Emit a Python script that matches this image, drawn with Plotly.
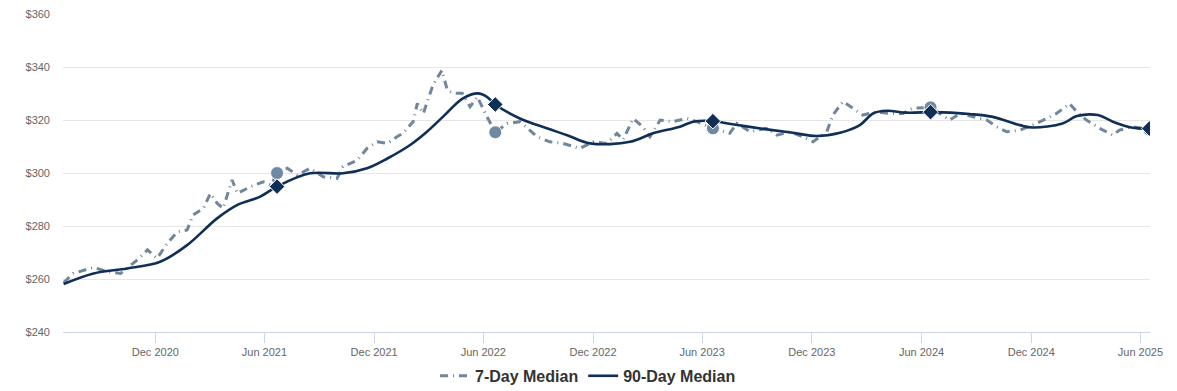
import plotly.graph_objects as go

# 90-day median (solid)
d90_dates = ["2020-07-01","2020-08-20","2020-10-15","2020-12-09","2021-01-23","2021-03-14",
             "2021-04-17","2021-05-25","2021-06-22","2021-08-16","2021-10-10","2021-11-19",
             "2021-12-23","2022-01-30","2022-02-27","2022-03-26","2022-04-28","2022-05-23",
             "2022-06-07","2022-06-21","2022-08-01","2022-09-15","2022-10-19","2022-11-26",
             "2023-02-01","2023-03-11","2023-04-25","2023-05-17","2023-06-19","2023-07-22",
             "2023-09-17","2023-10-30","2023-12-09","2024-01-17","2024-02-19","2024-03-12",
             "2024-04-04","2024-05-07","2024-06-16","2024-07-06","2024-08-20","2024-09-26",
             "2024-11-12","2024-12-03","2025-01-22","2025-02-15","2025-03-22","2025-04-16",
             "2025-05-19","2025-06-16"]
d90_values = [258.1,262.1,264.0,266.5,272.8,282.9,
              288.0,291.1,294.9,299.9,299.9,301.8,
              305.5,310.6,315.6,321.3,328.2,330.1,
              328.8,325.9,320.6,316.9,314.3,311.2,
              311.8,315.0,317.5,319.4,319.6,318.4,
              316.5,315.2,314.0,315.2,318.1,322.5,
              323.5,322.8,323.0,322.9,322.3,321.3,
              318.1,317.2,318.7,321.5,321.9,319.4,
              317.1,316.8]

# 7-day median (dashed)
d7_dates = ["2020-07-01","2020-07-17","2020-08-20","2020-09-12","2020-10-04","2020-11-01","2020-11-18",
            "2020-12-04","2020-12-21","2021-01-07","2021-01-23","2021-02-02","2021-02-19","2021-03-03",
            "2021-03-14","2021-03-24","2021-04-08","2021-04-17","2021-05-08","2021-05-30","2021-06-12",
            "2021-06-22","2021-07-09","2021-07-26","2021-08-16","2021-09-07","2021-09-30","2021-10-10",
            "2021-11-03","2021-11-19","2021-12-06","2021-12-23","2022-01-08","2022-01-18","2022-02-04",
            "2022-02-11","2022-02-21","2022-03-09","2022-03-24","2022-04-02","2022-04-12","2022-04-27",
            "2022-05-10","2022-05-22","2022-06-07","2022-06-21","2022-07-11","2022-08-01","2022-08-30",
            "2022-09-20","2022-10-12","2022-11-09","2022-12-01","2022-12-24","2023-01-10","2023-01-20",
            "2023-02-06","2023-02-22","2023-03-06","2023-03-23","2023-04-13","2023-05-07","2023-05-23",
            "2023-06-19","2023-07-17","2023-07-29","2023-08-20","2023-09-17","2023-10-04","2023-10-25",
            "2023-11-16","2023-12-03","2023-12-26","2024-01-05","2024-01-22","2024-02-07","2024-02-24",
            "2024-03-18","2024-04-09","2024-05-01","2024-05-17","2024-06-16","2024-07-06","2024-07-18",
            "2024-08-04","2024-08-25","2024-09-18","2024-10-04","2024-10-21","2024-11-12","2024-12-03",
            "2024-12-27","2025-01-12","2025-02-03","2025-02-15","2025-03-03","2025-03-25","2025-04-16",
            "2025-04-27","2025-05-19","2025-06-16"]
d7_values = [258.6,262.1,264.4,262.8,262.1,267.2,271.0,
             267.8,273.5,277.9,278.5,284.2,286.7,292.3,
             288.6,286.7,297.4,292.3,294.8,296.7,295.5,
             300.0,301.8,299.2,301.8,298.6,298.0,302.4,
             304.9,309.3,311.8,311.2,313.7,315.0,319.4,
             326.3,322.5,333.2,338.8,331.3,330.1,330.1,
             325.0,328.8,321.3,315.4,318.7,319.4,313.7,
             311.8,311.2,309.3,311.8,311.2,315.0,312.5,
             320.6,317.5,313.7,320.0,319.4,320.6,319.4,
             316.9,315.0,318.7,315.6,316.9,314.3,315.6,
             313.7,311.8,315.6,321.9,327.0,324.5,321.9,
             323.1,322.5,322.5,324.5,324.8,321.9,320.0,
             322.5,321.3,320.0,317.5,315.6,316.2,318.1,
             320.6,322.5,326.2,323.1,320.0,316.9,314.3,
             316.2,317.5,316.4]

# Yearly highlighted points
mark_dates = ["2021-06-22","2022-06-21","2023-06-19","2024-06-16","2025-06-16"]
mark_7 = [300.0,315.4,316.9,324.8,316.4]
mark_90 = [294.9,325.9,319.6,323.0,316.8]

tick_vals = ["2020-12-01","2021-06-01","2021-12-01","2022-06-01","2022-12-01",
             "2023-06-01","2023-12-01","2024-06-01","2024-12-01","2025-06-01"]
tick_text = ["Dec 2020","Jun 2021","Dec 2021","Jun 2022","Dec 2022",
             "Jun 2023","Dec 2023","Jun 2024","Dec 2024","Jun 2025"]
y_ticks = [240, 260, 280, 300, 320, 340, 360]
y_labels = ["$" + str(v) for v in y_ticks]

C7 = "#71869c"
C90 = "#0f2f57"

fig = go.Figure()
fig.add_trace(go.Scatter(x=d7_dates, y=d7_values, mode="lines", name="7-Day Median",
                         line=dict(color=C7, width=3, dash="8px,5px,1px,5px")))
fig.add_trace(go.Scatter(x=d90_dates, y=d90_values, mode="lines", name="90-Day Median",
                         line=dict(color=C90, width=2.6), line_shape="spline"))
fig.add_trace(go.Scatter(x=mark_dates, y=mark_7, mode="markers", showlegend=False,
                         marker=dict(symbol="circle", size=13, color="#6e89a3",
                                     line=dict(color="white", width=1))))
fig.add_trace(go.Scatter(x=mark_dates, y=mark_90, mode="markers", showlegend=False,
                         marker=dict(symbol="diamond", size=12, color=C90,
                                     line=dict(color="white", width=1))))

fig.update_layout(
    width=1169, height=383,
    margin=dict(l=55, r=27, t=6, b=59, autoexpand=False),
    paper_bgcolor="white", plot_bgcolor="white",
    font=dict(family="Arial, Liberation Sans, sans-serif", color="#666666", size=11),
    legend=dict(orientation="h", x=0.483, xanchor="center", y=-0.138, yanchor="middle",
                font=dict(size=16, color="#333333", family="Arial, Liberation Sans, sans-serif",
                          weight="bold"),
                itemwidth=30, traceorder="normal"),
    xaxis=dict(range=["2020-06-30", "2025-06-17"], tickvals=tick_vals, ticktext=tick_text,
               showgrid=False, showline=True, linecolor="#ccd6eb", linewidth=1,
               ticks="outside", ticklen=10, tickcolor="#ccd6eb",
               tickfont=dict(size=11, color="#666666"), zeroline=False),
    yaxis=dict(range=[240, 360.05], tickvals=y_ticks, ticktext=y_labels,
               showgrid=True, gridcolor="#e6e6e6", gridwidth=1, zeroline=False,
               tickfont=dict(size=11, color="#666666"), ticks="", ticklabelstandoff=12,
               ticklabeloverflow="allow"),
)

fig.write_html("out.html")
